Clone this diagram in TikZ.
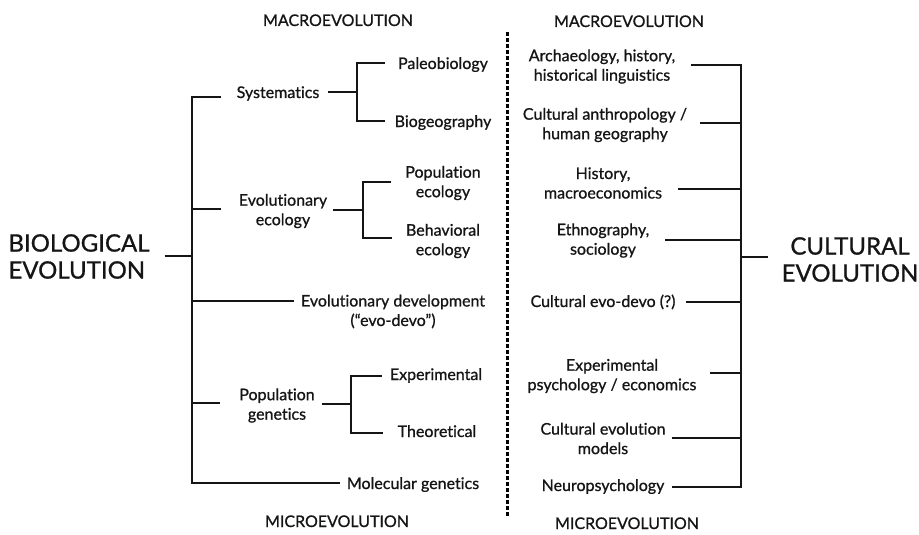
\documentclass[tikz,border=0pt]{standalone}
\usepackage{fontspec}
\setmainfont{Lato}[Ligatures={NoCommon,NoRare,NoDiscretionary}, FakeBold=0.9]
\usetikzlibrary{calc}
\definecolor{ink}{HTML}{151515}
\begin{document}
\begin{tikzpicture}[x=1pt,y=-1pt,
  lbl/.style={font=\fontsize{16}{19.5}\selectfont, text=ink, inner sep=0pt, outer sep=0pt, align=center},
  one/.style={font=\fontsize{16}{19.5}\selectfont, text=ink, inner sep=0pt, outer sep=0pt, text height=11.5pt, text depth=3.5pt},
  head/.style={one},
  big/.style={font=\fontsize{24}{27}\selectfont, text=ink, inner sep=0pt, outer sep=0pt},
  con/.style={draw=ink, line width=1.7pt},
  sepline/.style={draw=black, line width=3pt, dash pattern=on 4pt off 2pt}]
\useasboundingbox (0,0) rectangle (919,535);
% headings
\node[head] (macroL) at (338,22) {MACROEVOLUTION};
\node[head] (microL) at (337,523) {MICROEVOLUTION};
\node[head] (macroR) at (629,23) {MACROEVOLUTION};
\node[head] (microR) at (627,525) {MICROEVOLUTION};
% left
\node[big, align=left] (bio) at (79,256.5) {BIOLOGICAL\\EVOLUTION};
\node[one] (sys) at (278,94) {Systematics};
\node[one] (paleo) at (443,65) {Paleobiology};
\node[one] (biogeo) at (443,123) {Biogeography};
\node[lbl] (evoeco) at (283,211) {Evolutionary\\ecology};
\node[lbl] (popeco) at (443,183) {Population\\ecology};
\node[lbl] (behav) at (443,241) {Behavioral\\ecology};
\node[lbl] (evodevo) at (393,311.5) {Evolutionary development\\(“evo-devo”)};
\node[lbl] (popgen) at (277,405.5) {Population\\genetics};
\node[one] (exper) at (436,376) {Experimental};
\node[one] (theor) at (437,433) {Theoretical};
\node[one] (molgen) at (413,485) {Molecular genetics};
% right
\node[lbl] (arch) at (602,66.5) {Archaeology, history,\\historical linguistics};
\node[lbl] (anth) at (605,125) {Cultural anthropology /\\human geography};
\node[lbl] (hist) at (603,183) {History,\\macroeconomics};
\node[lbl] (ethno) at (603,240.5) {Ethnography,\\sociology};
\node[one] (cedd) at (603,303) {Cultural evo-devo (?)};
\node[lbl] (exppsy) at (612,376) {Experimental\\psychology / economics};
\node[lbl] (cem) at (603,438.5) {Cultural evolution\\models};
\node[one] (neuro) at (603,487) {Neuropsychology};
\node[big, align=center] (cult) at (850,259.5) {CULTURAL\\EVOLUTION};
% coordinates
\coordinate (TL) at (192,256);
\coordinate (tSys) at (192,97);
\coordinate (tEco) at (192,209);
\coordinate (tDev) at (192,301);
\coordinate (tGen) at (192,403);
\coordinate (tMol) at (192,483);
\coordinate (j1) at (357,92);
\coordinate (j1a) at (357,63);
\coordinate (j1b) at (357,121);
\coordinate (j2) at (363,210);
\coordinate (j2a) at (363,182);
\coordinate (j2b) at (363,238);
\coordinate (j3) at (351,404);
\coordinate (j3a) at (351,376);
\coordinate (j3b) at (351,433);
\coordinate (TR) at (741,257);
\coordinate (r1) at (741,65);
\coordinate (r2) at (741,123);
\coordinate (r3) at (741,189);
\coordinate (r4) at (741,240);
\coordinate (r5) at (741,302);
\coordinate (r6) at (741,373);
\coordinate (r7) at (741,438);
\coordinate (r8) at (741,487);
\coordinate (s1) at (507,32);
\coordinate (s2) at (507,517);
% left tree
\draw[con, shorten <=15pt] (bio.east |- TL) -- (TL);
\draw[con, shorten <=16pt, shorten >=7pt] (sys.west |- tSys) -- (tSys) -- (tMol) -- (molgen.west |- tMol);
\draw[con, shorten >=18pt] (tEco) -- (evoeco.west |- tEco);
\draw[con, shorten >=7pt] (tDev) -- (evodevo.west |- tDev);
\draw[con, shorten >=19pt] (tGen) -- (popgen.west |- tGen);
\draw[con, shorten <=9pt] (sys.east |- j1) -- (j1);
\draw[con, shorten <=13pt, shorten >=10pt] (paleo.west |- j1a) -- (j1a) -- (j1b) -- (biogeo.west |- j1b);
\draw[con, shorten <=6pt] (evoeco.east |- j2) -- (j2);
\draw[con, shorten <=14pt, shorten >=14pt] (popeco.west |- j2a) -- (j2a) -- (j2b) -- (behav.west |- j2b);
\draw[con, shorten <=7pt] (popgen.east |- j3) -- (j3);
\draw[con, shorten <=8pt, shorten >=15pt] (exper.west |- j3a) -- (j3a) -- (j3b) -- (theor.west |- j3b);
% separator
\draw[sepline] (s1) -- (s2);
% right tree
\draw[con, shorten <=16pt, shorten >=8pt] (arch.east |- r1) -- (r1) -- (r8) -- (neuro.east |- r8);
\draw[con, shorten <=13pt] (anth.east |- r2) -- (r2);
\draw[con, shorten <=16pt] (hist.east |- r3) -- (r3);
\draw[con, shorten <=16pt] (ethno.east |- r4) -- (r4);
\draw[con, shorten <=11pt] (cedd.east |- r5) -- (r5);
\draw[con, shorten <=14pt] (exppsy.east |- r6) -- (r6);
\draw[con, shorten <=6pt] (cem.east |- r7) -- (r7);
\draw[con, shorten >=14pt] (TR) -- (cult.west |- TR);
\end{tikzpicture}
\end{document}
